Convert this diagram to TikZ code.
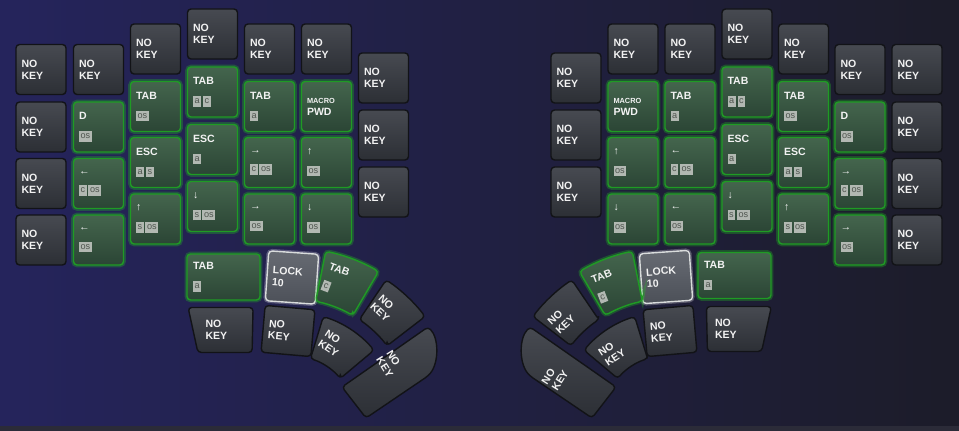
\documentclass[tikz,border=0pt]{standalone}
\usepackage{fontspec}
\setmainfont{Liberation Sans}
\usetikzlibrary{shapes.geometric}

\definecolor{bgleft}{HTML}{25245C}
\definecolor{bgmid}{HTML}{1F1E35}
\definecolor{bgright}{HTML}{1C1C29}
\definecolor{bgstrip}{HTML}{2B2B38}
\definecolor{keyedge}{HTML}{121317}
\definecolor{nokeytop}{HTML}{474A51}
\definecolor{nokeybot}{HTML}{2C2F35}
\definecolor{layeredge}{HTML}{1F9B24}
\definecolor{layertop}{HTML}{44654D}
\definecolor{layerbot}{HTML}{2B4535}
\definecolor{layerglow}{HTML}{23C323}
\definecolor{locktop}{HTML}{676B73}
\definecolor{lockbot}{HTML}{4C5058}
\definecolor{lockedge}{HTML}{D9DCDC}
\definecolor{tagbg}{HTML}{B2B8B2}
\definecolor{tagfg}{HTML}{4E544E}
\definecolor{keytext}{HTML}{F2F2F2}

\newcommand{\keyfont}{\bfseries\fontsize{6}{6.8}\selectfont}
\newcommand{\macrofont}{\fontsize{4.2}{4.6}\selectfont}
\newcommand{\tg}[1]{{\setlength{\fboxsep}{0.9pt}\colorbox{tagbg}{\color{tagfg}\mdseries\fontsize{5.2}{5.6}\selectfont\rule[-0.8pt]{0pt}{4.2pt}#1}}}

\begin{document}
\begin{tikzpicture}[x=0.02cm,y=-0.02cm]
        \tikzstyle{capface}=[draw=keyedge,line width=0.8pt,rounded corners=2pt,top color=nokeytop,bottom color=nokeybot]
        \tikzstyle{layerface}=[capface,draw=layeredge,top color=layertop,bottom color=layerbot,preaction={draw=layerglow,line width=2.6pt,opacity=0.3}]
        \tikzstyle{lockface}=[capface,draw=lockedge,top color=locktop,bottom color=lockbot,preaction={draw=white,line width=2.4pt,opacity=0.25}]
        \tikzstyle{keylabel}=[inner sep=0pt,text width=0.78cm,align=left,text=keytext,font=\keyfont]
        \tikzstyle{keycap}=[keylabel,minimum width=1cm,minimum height=1cm]
        \tikzstyle{nokey}=[keycap,capface]
        \tikzstyle{layerkey}=[keycap,layerface]
        \tikzstyle{lockkey}=[keycap,lockface]
        \tikzstyle{widekey}=[minimum width=1.46cm,minimum height=0.92cm,text width=1.22cm]
        \tikzstyle{trapkey}=[trapezium,shape border rotate=180,trapezium stretches=true,minimum width=1.3cm,minimum height=0.9cm]

        \useasboundingbox (0,0) rectangle (959,431);
        \fill[left color=bgleft,middle color=bgmid,right color=bgright] (0,0) rectangle (959,431);
        \fill[bgstrip] (0,426) rectangle (959,431);

        % left half
        \node[nokey](l00) at (41,69.5){NO\\KEY};
        \node[nokey](l01) at (41,127){NO\\KEY};
        \node[nokey](l02) at (41,183.5){NO\\KEY};
        \node[nokey](l03) at (41,240){NO\\KEY};

        \node[nokey](l10) at (98.5,69.5){NO\\KEY};
        \node[layerkey](l11) at (98.5,127){D\\[4pt]\tg{os}};
        \node[layerkey](l12) at (98.5,183.5){←\\[4pt]\tg{c}\hspace{1pt}\tg{os}};
        \node[layerkey](l13) at (98.5,240){←\\[4pt]\tg{os}};

        \node[nokey](l20) at (155.5,49){NO\\KEY};
        \node[layerkey](l21) at (155.5,106.5){TAB\\[4pt]\tg{os}};
        \node[layerkey](l22) at (155.5,162.5){ESC\\[4pt]\tg{a}\hspace{1pt}\tg{s}};
        \node[layerkey](l23) at (155.5,219){↑\\[4pt]\tg{s}\hspace{1pt}\tg{os}};

        \node[nokey](l30) at (212.5,34){NO\\KEY};
        \node[layerkey](l31) at (212.5,92){TAB\\[4pt]\tg{a}\hspace{1pt}\tg{c}};
        \node[layerkey](l32) at (212.5,149.5){ESC\\[4pt]\tg{a}};
        \node[layerkey](l33) at (212.5,206.5){↓\\[4pt]\tg{s}\hspace{1pt}\tg{os}};

        \node[nokey](l40) at (269.5,49){NO\\KEY};
        \node[layerkey](l41) at (269.5,106.5){TAB\\[4pt]\tg{a}};
        \node[layerkey](l42) at (269.5,162.5){→\\[4pt]\tg{c}\hspace{1pt}\tg{os}};
        \node[layerkey](l43) at (269.5,219){→\\[4pt]\tg{os}};

        \node[nokey](l50) at (326.5,49){NO\\KEY};
        \node[layerkey](l51) at (326.5,106.5){{\macrofont MACRO}\\PWD};
        \node[layerkey](l52) at (326.5,162.5){↑\\[4pt]\tg{os}};
        \node[layerkey](l53) at (326.5,219){↓\\[4pt]\tg{os}};

        \node[nokey](l60) at (383.5,78){NO\\KEY};
        \node[nokey](l61) at (383.5,135){NO\\KEY};
        \node[nokey](l62) at (383.5,192){NO\\KEY};

        % left thumbs
        \node[layerkey,widekey](lt1) at (223.5,277){TAB\\[4pt]\tg{a}};
        \node[lockkey,rotate=-4](lt2) at (292,277.5){LOCK\\10};
        \node[nokey,trapkey,trapezium left angle=88,trapezium right angle=70](lt5) at (225,330){NO\\KEY};
        \node[nokey,rotate=-5,minimum height=0.94cm](lt6) at (288,331){NO\\KEY};
        \begin{scope}[shift={(292,419)}]
            \path[layerface] (-59.6:120) -- (-59.6:171) arc[start angle=-59.6,end angle=-78.6,radius=171] -- (-78.6:120) arc[start angle=-78.6,end angle=-59.6,radius=120] -- cycle;
            \path[capface] (-37.6:120) -- (-37.6:168) arc[start angle=-37.6,end angle=-55.9,radius=168] -- (-55.9:120) arc[start angle=-55.9,end angle=-37.6,radius=120] -- cycle;
            \path[capface] (-40:63) -- (-40:107) arc[start angle=-40,end angle=-73,radius=107] -- (-73:63) arc[start angle=-73,end angle=-40,radius=63] -- cycle;
        \end{scope}
        \path[capface] (342,387) -- (428,327) .. controls (439,338) and (439,363) .. (428,376) -- (366,418) -- cycle;
        \node[keylabel,rotate=-21](lt3) at (344,283){TAB\\[4pt]\tg{c}};
        \node[keylabel,rotate=-43](lt4) at (390.5,314){NO\\KEY};
        \node[keylabel,rotate=-33.5](lt7) at (339,348){NO\\KEY};
        \node[keylabel,rotate=-58,text width=0.44cm](lt8) at (390,364){NO\\KEY};

        % right half
        \node[nokey](r00) at (576,78){NO\\KEY};
        \node[nokey](r01) at (576,135){NO\\KEY};
        \node[nokey](r02) at (576,192){NO\\KEY};

        \node[nokey](r10) at (633,49){NO\\KEY};
        \node[layerkey](r11) at (633,106.5){{\macrofont MACRO}\\PWD};
        \node[layerkey](r12) at (633,162.5){↑\\[4pt]\tg{os}};
        \node[layerkey](r13) at (633,219){↓\\[4pt]\tg{os}};

        \node[nokey](r20) at (690,49){NO\\KEY};
        \node[layerkey](r21) at (690,106.5){TAB\\[4pt]\tg{a}};
        \node[layerkey](r22) at (690,162.5){←\\[4pt]\tg{c}\hspace{1pt}\tg{os}};
        \node[layerkey](r23) at (690,219){←\\[4pt]\tg{os}};

        \node[nokey](r30) at (747,34){NO\\KEY};
        \node[layerkey](r31) at (747,92){TAB\\[4pt]\tg{a}\hspace{1pt}\tg{c}};
        \node[layerkey](r32) at (747,149.5){ESC\\[4pt]\tg{a}};
        \node[layerkey](r33) at (747,206.5){↓\\[4pt]\tg{s}\hspace{1pt}\tg{os}};

        \node[nokey](r40) at (803.5,49){NO\\KEY};
        \node[layerkey](r41) at (803.5,106.5){TAB\\[4pt]\tg{os}};
        \node[layerkey](r42) at (803.5,162.5){ESC\\[4pt]\tg{a}\hspace{1pt}\tg{s}};
        \node[layerkey](r43) at (803.5,219){↑\\[4pt]\tg{s}\hspace{1pt}\tg{os}};

        \node[nokey](r50) at (860,69.5){NO\\KEY};
        \node[layerkey](r51) at (860,127){D\\[4pt]\tg{os}};
        \node[layerkey](r52) at (860,183.5){→\\[4pt]\tg{c}\hspace{1pt}\tg{os}};
        \node[layerkey](r53) at (860,240){→\\[4pt]\tg{os}};

        \node[nokey](r60) at (917,69.5){NO\\KEY};
        \node[nokey](r61) at (917,127){NO\\KEY};
        \node[nokey](r62) at (917,183.5){NO\\KEY};
        \node[nokey](r63) at (917,240){NO\\KEY};

        % right thumbs
        \node[layerkey,widekey](rt1) at (734.5,275.5){TAB\\[4pt]\tg{a}};
        \node[lockkey,rotate=4](rt2) at (666,277){LOCK\\10};
        \node[nokey,trapkey,trapezium left angle=70,trapezium right angle=88](rt5) at (734.5,329){NO\\KEY};
        \node[nokey,rotate=5,minimum height=0.94cm](rt6) at (670,331){NO\\KEY};
        \begin{scope}[shift={(666,419)}]
            \path[layerface] (-101.4:120) -- (-101.4:171) arc[start angle=-101.4,end angle=-120.4,radius=171] -- (-120.4:120) arc[start angle=-120.4,end angle=-101.4,radius=120] -- cycle;
            \path[capface] (-124.1:120) -- (-124.1:168) arc[start angle=-124.1,end angle=-142.4,radius=168] -- (-142.4:120) arc[start angle=-142.4,end angle=-124.1,radius=120] -- cycle;
            \path[capface] (-107:63) -- (-107:107) arc[start angle=-107,end angle=-140,radius=107] -- (-140:63) arc[start angle=-140,end angle=-107,radius=63] -- cycle;
        \end{scope}
        \path[capface] (616,387) -- (530,327) .. controls (519,338) and (519,363) .. (530,376) -- (592,418) -- cycle;
        \node[keylabel,rotate=21](rt3) at (614,283){TAB\\[4pt]\tg{c}};
        \node[keylabel,rotate=43](rt4) at (567.5,314){NO\\KEY};
        \node[keylabel,rotate=33.5](rt7) at (619,348){NO\\KEY};
        \node[keylabel,rotate=58,text width=0.44cm](rt8) at (555,377){NO\\KEY};

    \end{tikzpicture}
\end{document}
